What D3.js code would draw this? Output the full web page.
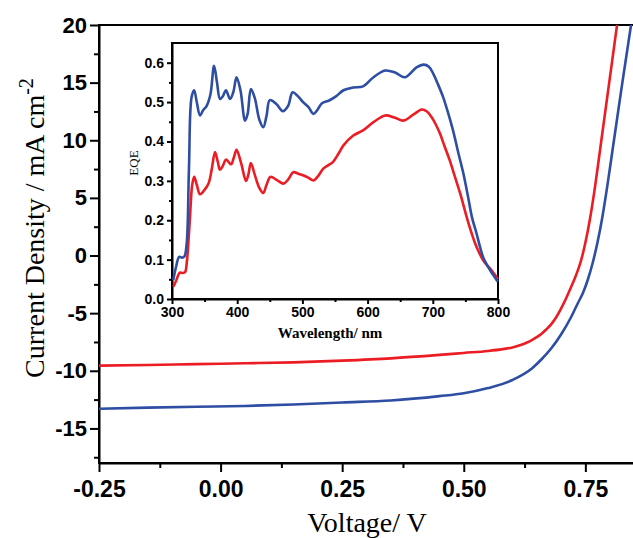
<!DOCTYPE html>
<html>
<head>
<meta charset="utf-8">
<script src="https://cdn.jsdelivr.net/npm/d3@7"></script>
<style>
  body { margin: 0; background: #fff; }
  .tick text { font-family: "Liberation Sans", Arial, sans-serif; font-weight: bold; fill: #000; }
  .axis path, .axis line { stroke: #000; }
  .title { font-family: "Liberation Serif", "Times New Roman", serif; fill: #000; }
</style>
</head>
<body>
<div id="chart"></div>
<script>
// J-V curves with EQE inset

// Main plot data: voltage (V) and current density (mA cm-2)
const redVoltage = [-0.25, -0.15, -0.05, 0.05, 0.15, 0.25, 0.35, 0.45, 0.50, 0.55, 0.58, 0.60, 0.62, 0.63, 0.64, 0.65, 0.66, 0.67, 0.68, 0.69, 0.70, 0.71, 0.72, 0.73, 0.74, 0.75, 0.76, 0.77, 0.78, 0.79, 0.80, 0.81, 0.82];
const redCurrent = [-9.55, -9.5, -9.42, -9.35, -9.27, -9.12, -8.92, -8.62, -8.45, -8.28, -8.12, -7.97, -7.72, -7.55, -7.33, -7.08, -6.78, -6.4, -5.95, -5.35, -4.6, -3.75, -2.8, -1.8, -0.6, 1.1, 3.3, 6.0, 9.1, 12.2, 15.3, 18.4, 21.5];

const blueVoltage = [-0.25, -0.15, -0.05, 0.05, 0.15, 0.25, 0.35, 0.45, 0.50, 0.55, 0.60, 0.64, 0.66, 0.68, 0.70, 0.72, 0.735, 0.745, 0.755, 0.765, 0.775, 0.785, 0.795, 0.805, 0.815, 0.825, 0.835, 0.845, 0.855];
const blueCurrent = [-13.3, -13.2, -13.12, -13.05, -12.92, -12.75, -12.58, -12.2, -11.95, -11.5, -10.8, -9.8, -9.0, -8.05, -6.85, -5.4, -4.1, -3.25, -2.1, -0.65, 1.15, 3.35, 6.0, 8.9, 11.8, 14.7, 17.5, 20.3, 23.0];

// Inset data: wavelength (nm) and EQE
const blueWavelength = [302, 306, 311, 315, 319, 322.5, 326, 330, 334, 338, 343, 348, 353, 359, 364.5, 369, 373.6, 378, 382.8, 389, 394, 399, 405, 412, 416, 421, 427, 434, 440, 445, 450, 460, 470, 478, 485, 493, 501, 509, 517, 523, 530, 541, 552, 563, 578, 593, 609, 627, 642, 657, 675, 686, 694, 701, 708, 716, 723, 731, 739, 747, 754, 760, 767, 772, 777, 782, 788, 793, 798, 800];
const blueEqe = [0.048, 0.08, 0.107, 0.105, 0.108, 0.14, 0.33, 0.512, 0.53, 0.5, 0.466, 0.48, 0.49, 0.52, 0.592, 0.55, 0.508, 0.515, 0.53, 0.508, 0.525, 0.563, 0.53, 0.453, 0.47, 0.533, 0.51, 0.455, 0.436, 0.465, 0.505, 0.495, 0.477, 0.49, 0.525, 0.515, 0.5, 0.488, 0.47, 0.48, 0.497, 0.504, 0.515, 0.53, 0.537, 0.54, 0.563, 0.58, 0.575, 0.563, 0.588, 0.595, 0.59, 0.571, 0.545, 0.512, 0.475, 0.428, 0.372, 0.318, 0.26, 0.208, 0.167, 0.135, 0.107, 0.09, 0.073, 0.06, 0.048, 0.044];

const redWavelength = [302, 306, 312, 316, 320, 322.5, 325, 327.6, 331, 334, 338, 343, 349, 356, 361, 366, 370, 373.6, 378, 383, 390.5, 395, 399, 406, 413.5, 417, 421, 427, 434, 440, 445, 451, 461, 471, 478, 486, 494, 501, 509, 517, 524, 532, 540, 547, 555, 563, 578, 593, 609, 627, 641, 655, 670, 683, 691, 698, 704, 711, 718, 726, 734, 742, 752, 758, 765, 771, 777, 783, 790, 795, 800];
const redEqe = [0.031, 0.045, 0.067, 0.066, 0.068, 0.09, 0.14, 0.208, 0.29, 0.31, 0.29, 0.266, 0.275, 0.293, 0.33, 0.373, 0.35, 0.328, 0.338, 0.354, 0.342, 0.36, 0.379, 0.345, 0.3, 0.315, 0.345, 0.315, 0.282, 0.269, 0.29, 0.31, 0.302, 0.293, 0.303, 0.322, 0.318, 0.314, 0.308, 0.301, 0.312, 0.331, 0.34, 0.348, 0.368, 0.39, 0.415, 0.428, 0.449, 0.466, 0.461, 0.453, 0.468, 0.481, 0.476, 0.462, 0.445, 0.42, 0.388, 0.352, 0.31, 0.268, 0.208, 0.175, 0.141, 0.118, 0.099, 0.086, 0.073, 0.062, 0.05];

// Tick values
const voltageTicks = [-0.25, 0.00, 0.25, 0.50, 0.75];
const currentTicks = [-15, -10, -5, 0, 5, 10, 15, 20];
const wavelengthTicks = [300, 400, 500, 600, 700, 800];
const eqeTicks = [0.0, 0.1, 0.2, 0.3, 0.4, 0.5, 0.6];

const redColor = "#ec1c24";
const blueColor = "#2e4ea4";

// plain hyphen instead of the unicode minus
const hyphen = fmt => d => fmt(d).replace("\u2212", "-");

// SVG dimensions
const width = 633;
const height = 538;

const svg = d3.select("#chart")
  .append("svg")
  .attr("width", width)
  .attr("height", height);

// Main plot area
const main = { left: 99, top: 25, right: 634, bottom: 463 };

const xScale = d3.scaleLinear()
  .domain([-0.25, 0.85])
  .range([main.left, main.right]);

const yScale = d3.scaleLinear()
  .domain([-18, 20])
  .range([main.bottom, main.top]);

svg.append("clipPath")
  .attr("id", "main-clip")
  .append("rect")
  .attr("x", main.left)
  .attr("y", main.top)
  .attr("width", main.right - main.left)
  .attr("height", main.bottom - main.top);

// Frame (top line; right edge falls off the canvas)
svg.append("rect")
  .attr("x", main.left)
  .attr("y", main.top)
  .attr("width", main.right - main.left)
  .attr("height", main.bottom - main.top)
  .attr("fill", "none")
  .attr("stroke", "#000")
  .attr("stroke-width", 2);

// Minor ticks
svg.append("g")
  .attr("class", "axis")
  .attr("transform", `translate(0, ${main.bottom})`)
  .call(d3.axisBottom(xScale).tickValues(d3.range(-0.125, 0.85, 0.25)).tickSize(5).tickFormat(""))
  .call(g => g.select(".domain").remove())
  .selectAll("line").attr("stroke-width", 2);

svg.append("g")
  .attr("class", "axis")
  .attr("transform", `translate(${main.left}, 0)`)
  .call(d3.axisLeft(yScale).tickValues(d3.range(-17.5, 20, 5)).tickSize(5).tickFormat(""))
  .call(g => g.select(".domain").remove())
  .selectAll("line").attr("stroke-width", 2);

// X axis
const xAxisG = svg.append("g")
  .attr("class", "axis")
  .attr("transform", `translate(0, ${main.bottom})`)
  .call(d3.axisBottom(xScale).tickValues(voltageTicks).tickSize(9).tickSizeOuter(0).tickPadding(9).tickFormat(hyphen(d3.format(".2f"))));
xAxisG.select(".domain").attr("stroke-width", 2);
xAxisG.selectAll("line").attr("stroke-width", 2);
xAxisG.selectAll("text").style("font-size", "23px");

// Y axis
const yAxisG = svg.append("g")
  .attr("class", "axis")
  .attr("transform", `translate(${main.left}, 0)`)
  .call(d3.axisLeft(yScale).tickValues(currentTicks).tickSize(9).tickSizeOuter(0).tickPadding(3).tickFormat(hyphen(d3.format("d"))));
yAxisG.select(".domain").attr("stroke-width", 2);
yAxisG.selectAll("line").attr("stroke-width", 2);
yAxisG.selectAll("text").style("font-size", "22px");

// J-V lines
const jvLine = d3.line()
  .x(d => xScale(d[0]))
  .y(d => yScale(d[1]))
  .curve(d3.curveMonotoneX);

const plotG = svg.append("g").attr("clip-path", "url(#main-clip)");

plotG.append("path")
  .datum(d3.zip(redVoltage, redCurrent))
  .attr("fill", "none")
  .attr("stroke", redColor)
  .attr("stroke-width", 2.6)
  .attr("d", jvLine);

plotG.append("path")
  .datum(d3.zip(blueVoltage, blueCurrent))
  .attr("fill", "none")
  .attr("stroke", blueColor)
  .attr("stroke-width", 2.6)
  .attr("d", jvLine);

// Axis titles
svg.append("text")
  .attr("class", "title")
  .attr("x", 367)
  .attr("y", 532)
  .attr("text-anchor", "middle")
  .style("font-size", "28px")
  .text("Voltage/ V");

const yTitle = svg.append("text")
  .attr("class", "title")
  .attr("transform", "translate(44, 228) rotate(-90)")
  .attr("text-anchor", "middle")
  .style("font-size", "28px");
yTitle.append("tspan").text("Current Density / mA cm");
yTitle.append("tspan")
  .attr("dy", -11)
  .style("font-size", "20px")
  .text("-2");

// Inset
const inset = { left: 172, top: 43, right: 498, bottom: 299 };

const xInset = d3.scaleLinear()
  .domain([300, 800])
  .range([inset.left, inset.right]);

const yInset = d3.scaleLinear()
  .domain([0, 0.65])
  .range([inset.bottom, inset.top]);

svg.append("rect")
  .attr("x", inset.left)
  .attr("y", inset.top)
  .attr("width", inset.right - inset.left)
  .attr("height", inset.bottom - inset.top)
  .attr("fill", "#fff")
  .attr("stroke", "#000")
  .attr("stroke-width", 2);

svg.append("g")
  .attr("class", "axis")
  .attr("transform", `translate(0, ${inset.bottom})`)
  .call(d3.axisBottom(xInset).tickValues(d3.range(350, 800, 100)).tickSize(3).tickFormat(""))
  .call(g => g.select(".domain").remove())
  .selectAll("line").attr("stroke-width", 2);

svg.append("g")
  .attr("class", "axis")
  .attr("transform", `translate(${inset.left}, 0)`)
  .call(d3.axisLeft(yInset).tickValues(d3.range(0.05, 0.65, 0.1)).tickSize(3).tickFormat(""))
  .call(g => g.select(".domain").remove())
  .selectAll("line").attr("stroke-width", 2);

const xInsetG = svg.append("g")
  .attr("class", "axis")
  .attr("transform", `translate(0, ${inset.bottom})`)
  .call(d3.axisBottom(xInset).tickValues(wavelengthTicks).tickSize(5).tickSizeOuter(0).tickPadding(3));
xInsetG.select(".domain").attr("stroke-width", 2);
xInsetG.selectAll("line").attr("stroke-width", 2);
xInsetG.selectAll("text").style("font-size", "14px");

const yInsetG = svg.append("g")
  .attr("class", "axis")
  .attr("transform", `translate(${inset.left}, 0)`)
  .call(d3.axisLeft(yInset).tickValues(eqeTicks).tickSize(5).tickSizeOuter(0).tickPadding(3).tickFormat(d3.format(".1f")));
yInsetG.select(".domain").attr("stroke-width", 2);
yInsetG.selectAll("line").attr("stroke-width", 2);
yInsetG.selectAll("text").style("font-size", "14px");

// EQE lines
const eqeLine = d3.line()
  .x(d => xInset(d[0]))
  .y(d => yInset(d[1]))
  .curve(d3.curveCatmullRom);

svg.append("path")
  .datum(d3.zip(redWavelength, redEqe))
  .attr("fill", "none")
  .attr("stroke", redColor)
  .attr("stroke-width", 2.6)
  .attr("d", eqeLine);

svg.append("path")
  .datum(d3.zip(blueWavelength, blueEqe))
  .attr("fill", "none")
  .attr("stroke", blueColor)
  .attr("stroke-width", 2.6)
  .attr("d", eqeLine);

// Inset titles
svg.append("text")
  .attr("class", "title")
  .attr("x", 330)
  .attr("y", 338)
  .attr("text-anchor", "middle")
  .style("font-size", "15px")
  .style("font-weight", "bold")
  .text("Wavelength/ nm");

svg.append("text")
  .attr("class", "title")
  .attr("transform", "translate(138, 163) rotate(-90)")
  .attr("text-anchor", "middle")
  .style("font-size", "13px")
  .text("EQE");
</script>
</body>
</html>
